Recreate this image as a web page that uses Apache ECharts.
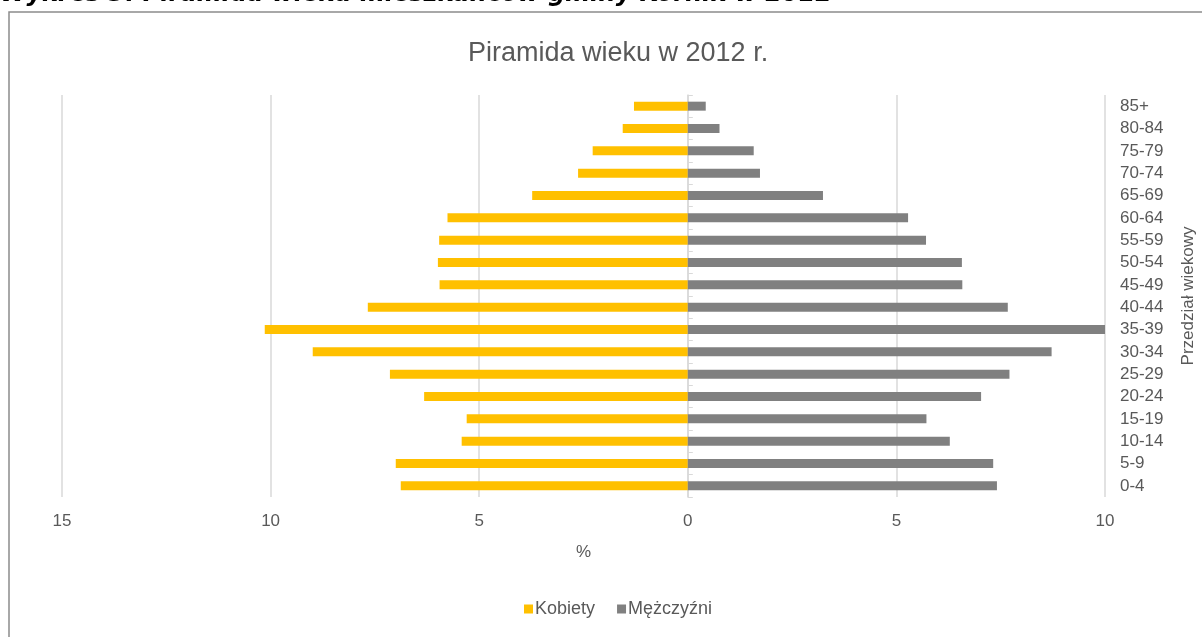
<!DOCTYPE html>
<html>
<head>
<meta charset="utf-8">
<script src="https://cdn.jsdelivr.net/npm/echarts@6/dist/echarts.min.js"></script>
<style>
  html, body { margin: 0; padding: 0; background: #fff; }
  #chart { width: 1202px; height: 637px; }
</style>
</head>
<body>
<div id="chart"></div>
<script>
// age groups, bottom to top
let ageGroups = ['0-4', '5-9', '10-14', '15-19', '20-24', '25-29', '30-34', '35-39', '40-44',
  '45-49', '50-54', '55-59', '60-64', '65-69', '70-74', '75-79', '80-84', '85+'];
// % of population
let women = [6.88, 7.00, 5.42, 5.30, 6.32, 7.14, 8.99, 10.14, 7.67,
  5.95, 5.99, 5.96, 5.76, 3.73, 2.63, 2.28, 1.56, 1.29];
let men = [7.41, 7.32, 6.28, 5.72, 7.03, 7.71, 8.72, 10.06, 7.67,
  6.58, 6.57, 5.71, 5.28, 3.24, 1.73, 1.58, 0.76, 0.43];
let xTicks = { min: -15, max: 10, step: 5 };

let font = '"Liberation Sans", Arial, sans-serif';
let textColor = '#595959';

let chart = echarts.init(document.getElementById('chart'));
let option = {
  backgroundColor: '#fff',
  animation: false,
  textStyle: { fontFamily: font },
  title: {
    text: 'Piramida wieku w 2012 r.',
    left: 463,
    top: 35,
    textStyle: { fontFamily: font, fontSize: 27, fontWeight: 'normal', color: textColor }
  },
  graphic: [
    {
      type: 'rect',
      shape: { x: 9, y: 12, width: 1300, height: 700 },
      style: { fill: 'none', stroke: '#8c8c8c', lineWidth: 1.5 },
      silent: true
    },
    {
      type: 'text',
      x: 0,
      y: -17,
      style: {
        text: 'Wykres 3. Piramida wieku mieszkańców gminy Kórnik w 2012',
        font: 'italic bold 24px "DejaVu Sans", Verdana, sans-serif',
        fill: '#000'
      },
      silent: true
    }
  ],
  legend: {
    bottom: 14,
    left: 519,
    itemWidth: 9,
    itemHeight: 9,
    itemGap: 22,
    icon: 'rect',
    textStyle: { fontFamily: font, fontSize: 18, color: textColor, padding: [0, 0, 0, -3] },
    data: ['Kobiety', 'Mężczyźni']
  },
  grid: { left: 62, right: 97, top: 95, bottom: 140, containLabel: false, outerBoundsMode: 'none' },
  xAxis: {
    type: 'value',
    min: xTicks.min,
    max: xTicks.max,
    interval: xTicks.step,
    name: '%',
    nameLocation: 'middle',
    nameGap: 47,
    nameTextStyle: { fontFamily: font, fontSize: 17, color: textColor },
    axisLine: { show: false },
    axisTick: { show: false },
    axisLabel: {
      margin: 16,
      fontFamily: font,
      fontSize: 17,
      color: textColor,
      formatter: function (v) { return Math.abs(v); }
    },
    splitLine: { lineStyle: { color: '#d9d9d9', width: 1.5 } }
  },
  yAxis: {
    type: 'category',
    position: 'right',
    data: ageGroups,
    name: 'Przedział wiekowy',
    nameLocation: 'middle',
    nameRotate: 90,
    nameGap: 75,
    nameTextStyle: { fontFamily: font, fontSize: 17, color: textColor },
    axisLine: { show: true, lineStyle: { color: '#d9d9d9', width: 1.5 } },
    axisTick: { show: true, length: 5, lineStyle: { color: '#d9d9d9' } },
    axisLabel: {
      margin: 15,
      align: 'left',
      fontFamily: font,
      fontSize: 17,
      color: textColor
    }
  },
  series: [
    {
      name: 'Kobiety',
      type: 'bar',
      barWidth: 9,
      barGap: '-100%',
      itemStyle: { color: '#FFC000' },
      data: women.map(function (v) { return -v; })
    },
    {
      name: 'Mężczyźni',
      type: 'bar',
      barWidth: 9,
      itemStyle: { color: '#808080' },
      data: men
    }
  ]
};
chart.setOption(option);
</script>
</body>
</html>
